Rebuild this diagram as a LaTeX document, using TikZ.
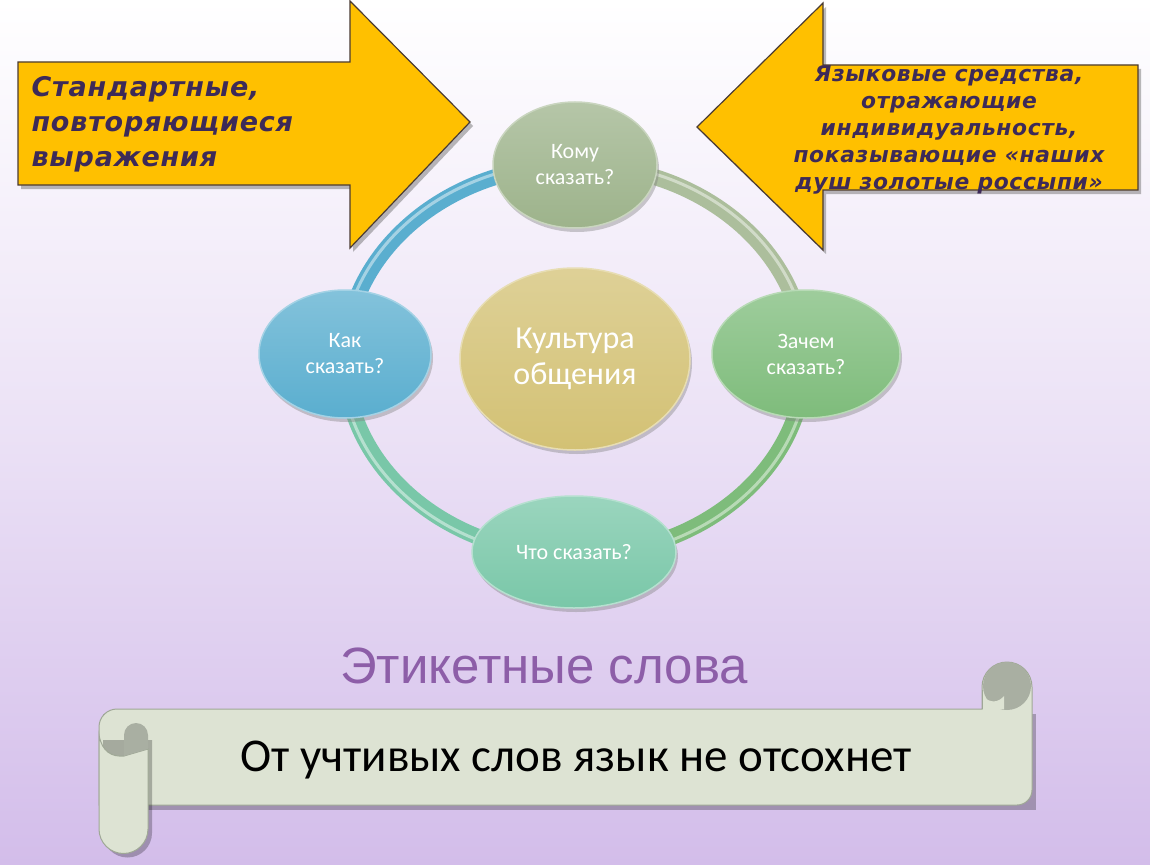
\documentclass[tikz,border=0pt]{standalone}
\usepackage{fontspec}
\setmainfont{Carlito}
\newfontfamily\arrowfont[LetterSpace=3]{DejaVu Sans}
\newfontfamily\titlefont{Liberation Sans}
\usetikzlibrary{shapes.geometric,shadows}
\definecolor{arrowfill}{HTML}{FFC000}
\definecolor{arrowline}{HTML}{4A3B33}
\definecolor{arrowtext}{HTML}{3D2A58}
\definecolor{komu}{HTML}{9DB38B}
\definecolor{kak}{HTML}{5AAECF}
\definecolor{zachem}{HTML}{7EBC7B}
\definecolor{chto}{HTML}{79C7A8}
\definecolor{kult}{HTML}{D3C174}
\definecolor{scrollfill}{HTML}{DDE3D3}
\definecolor{scrollline}{HTML}{9FA896}
\definecolor{scrolldark}{HTML}{A9AFA2}
\definecolor{titlecol}{HTML}{8D5EA8}
\definecolor{bgbot}{HTML}{D3BDEA}
\tikzset{
  bubble/.style={ellipse, draw=#1!55!white, line width=1.5pt,
    top color=#1!75!white, bottom color=#1, text=white, align=center,
    inner sep=0pt,
    drop shadow={shadow xshift=2pt, shadow yshift=-4pt, opacity=.4}},
  arrowbox/.style={fill=arrowfill, draw=arrowline, line width=1.2pt, line join=miter},
  arrowshadow/.style={fill=black!60, opacity=.45},
  arrowlabel/.style={text=arrowtext},
  ringseg/.style={line width=16pt, draw=#1},
  ringshine/.style={line width=3pt, draw=white, opacity=.45},
  scrollpart/.style={fill=scrollfill, draw=scrollline, line width=1pt},
}
\newcommand{\bubblefont}{\fontsize{22}{26}\selectfont}
\begin{document}
\begin{tikzpicture}[x=1pt,y=-1pt]
\useasboundingbox (0,0) rectangle (1150,864);
\shade[top color=white, bottom color=bgbot, middle color=bgbot!45!white] (0,0) rectangle (1150,864);

% ring
\draw[ringseg=kak] (575,360) ++(180:230 and 195) arc[start angle=180,end angle=270,x radius=230,y radius=195];
\draw[ringseg=komu!85!white] (575,360) ++(270:230 and 195) arc[start angle=270,end angle=360,x radius=230,y radius=195];
\draw[ringseg=zachem] (575,360) ++(0:230 and 195) arc[start angle=0,end angle=90,x radius=230,y radius=195];
\draw[ringseg=chto] (575,360) ++(90:230 and 195) arc[start angle=90,end angle=180,x radius=230,y radius=195];
\draw[ringshine] (575,360) ellipse[x radius=233, y radius=198];

% nodes
\node[bubble=komu, minimum width=164pt, minimum height=126pt, font=\bubblefont] (komu) at (575,165) {Кому\\сказать?};
\node[bubble=kak, minimum width=172pt, minimum height=128pt, font=\bubblefont] (kak) at (345,354) {Как\\сказать?};
\node[bubble=zachem, minimum width=188pt, minimum height=128pt, font=\bubblefont] (zachem) at (806,354) {Зачем\\сказать?};
\node[bubble=chto, minimum width=204pt, minimum height=112pt, font=\bubblefont] (chto) at (574,552) {Что сказать?};
\node[bubble=kult, minimum width=230pt, minimum height=182pt, font=\fontsize{32}{36}\selectfont] (kult) at (575,359) {Культура\\общения};

% left arrow
\fill[arrowshadow] (21,66) -- (353,66) -- (353,4) -- (473,126) -- (353,252) -- (353,189) -- (21,189) -- cycle;
\draw[arrowbox] (18,62) -- (350,62) -- (350,1) -- (470,122) -- (350,248) -- (350,185) -- (18,185) -- cycle;
\node[arrowlabel, anchor=west, align=left, font=\arrowfont\bfseries\itshape\fontsize{27}{35}\selectfont] (ltext) at (28,124)
  {Стандартные,\\повторяющиеся\\выражения};

% right arrow
\fill[arrowshadow] (1141,69) -- (826,69) -- (826,7) -- (700,131) -- (826,254) -- (826,194) -- (1141,194) -- cycle;
\draw[arrowbox] (1138,65) -- (823,65) -- (823,3) -- (697,127) -- (823,250) -- (823,190) -- (1138,190) -- cycle;
\node[arrowlabel, align=center, font=\arrowfont\bfseries\itshape\fontsize{21.8}{27}\selectfont] (rtext) at (949,130)
  {Языковые средства,\\отражающие\\индивидуальность,\\показывающие «наших\\душ золотые россыпи»};

% title
\node[text=titlecol, font=\titlefont\fontsize{51}{56}\selectfont] (title) at (544,666) {Этикетные слова};

% scroll
\fill[black, opacity=.25] (103,714) rectangle (1036,810);
\draw[scrollpart] (99,727) arc[start angle=180,end angle=270,radius=18] -- (982,709) -- (982,687)
  arc[start angle=180,end angle=360,radius=25] -- (1032,790) arc[start angle=0,end angle=90,radius=15] -- (99,805) -- cycle;
\fill[scrolldark] (1007,686) circle[radius=24];
\fill[scrollfill] (984,709) -- (984,697) .. controls (990,703) and (998,703) .. (1004,696) -- (1004,709) -- cycle;
\draw[scrollline, line width=1pt] (982,709) -- (982,690);
\fill[black, opacity=.25] (103,740) -- (152,740) -- (152,833) arc[start angle=0,end angle=180,radius=24.5] -- cycle;
\draw[scrollpart] (99,735) .. controls (102,752) and (112,757) .. (124,756) -- (148,749) -- (148,829)
  arc[start angle=0,end angle=180,radius=24.5] -- cycle;
\fill[scrolldark] (124,756) -- (124,735) arc[start angle=180,end angle=360,radius=12] -- (148,749) -- cycle;
\node[font=\fontsize{47}{50}\selectfont, text=black] (motto) at (576,760) {От учтивых слов язык не отсохнет};
\end{tikzpicture}
\end{document}
